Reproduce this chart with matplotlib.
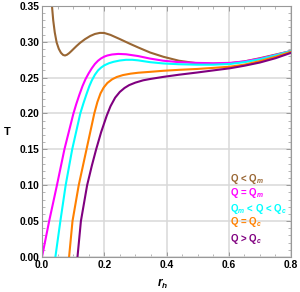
import matplotlib
matplotlib.use("Agg")
import matplotlib.pyplot as plt
from matplotlib.ticker import MultipleLocator

plt.rcParams['font.family'] = ['Liberation Sans', 'DejaVu Sans']
plt.rcParams['font.weight'] = 'bold'
plt.rcParams['mathtext.fontset'] = 'custom'
plt.rcParams['mathtext.rm'] = 'Liberation Sans:bold'
plt.rcParams['mathtext.it'] = 'Liberation Sans:italic:bold'
plt.rcParams['mathtext.bf'] = 'Liberation Sans:bold'

# Q < Q_m
r_brown = [0.029, 0.032, 0.036, 0.041, 0.047, 0.054, 0.061, 0.068, 0.074, 0.080,
           0.087, 0.094, 0.101, 0.111, 0.122, 0.138, 0.155, 0.170, 0.186, 0.200,
           0.220, 0.251, 0.283, 0.309, 0.347, 0.39, 0.44, 0.497, 0.55, 0.604,
           0.65, 0.70, 0.75, 0.80]
T_brown = [0.365, 0.350, 0.330, 0.313, 0.299, 0.290, 0.2845, 0.2815, 0.2808, 0.2818,
           0.2840, 0.2868, 0.2898, 0.2940, 0.2983, 0.3035, 0.3080, 0.3108, 0.3123, 0.3122,
           0.3095, 0.3035, 0.2970, 0.2920, 0.2850, 0.2790, 0.2735, 0.2700, 0.2690, 0.2700,
           0.2725, 0.2770, 0.2820, 0.2870]

# Q = Q_m
r_magenta = [0.0, 0.023, 0.048, 0.072, 0.101, 0.110, 0.120, 0.130, 0.140, 0.150,
             0.160, 0.170, 0.180, 0.190, 0.200, 0.210, 0.225, 0.245, 0.27, 0.309,
             0.347, 0.39, 0.44, 0.497, 0.55, 0.604, 0.65, 0.70, 0.75, 0.80]
T_magenta = [0.0, 0.05, 0.10, 0.15, 0.20, 0.213, 0.226, 0.238, 0.248, 0.256,
             0.263, 0.269, 0.2735, 0.2768, 0.2792, 0.2808, 0.2822, 0.2830, 0.2825, 0.2800,
             0.2765, 0.2735, 0.2715, 0.2705, 0.2700, 0.2705, 0.2725, 0.2765, 0.2815, 0.2870]

# Q_m < Q < Q_c
r_cyan = [0.043, 0.059, 0.076, 0.097, 0.123, 0.133, 0.143, 0.152, 0.160, 0.170,
          0.180, 0.190, 0.200, 0.215, 0.230, 0.250, 0.270, 0.290, 0.309, 0.347,
          0.39, 0.44, 0.497, 0.55, 0.604, 0.65, 0.70, 0.75, 0.80]
T_cyan = [0.0, 0.05, 0.10, 0.15, 0.200, 0.214, 0.227, 0.238, 0.246, 0.254,
          0.260, 0.264, 0.267, 0.270, 0.272, 0.2738, 0.2748, 0.2748, 0.2740, 0.2715,
          0.2697, 0.2686, 0.2680, 0.2680, 0.2690, 0.2715, 0.2755, 0.2810, 0.2870]

# Q = Q_c
r_orange = [0.087, 0.098, 0.118, 0.143, 0.168, 0.178, 0.188, 0.198, 0.210, 0.225,
            0.240, 0.260, 0.285, 0.310, 0.347, 0.39, 0.44, 0.497, 0.55, 0.604,
            0.65, 0.70, 0.75, 0.80]
T_orange = [0.0, 0.05, 0.10, 0.15, 0.200, 0.216, 0.228, 0.236, 0.2425, 0.2475,
            0.2508, 0.2535, 0.2555, 0.2568, 0.2580, 0.2595, 0.2608, 0.2620, 0.2635, 0.2652,
            0.2680, 0.2730, 0.2790, 0.2860]

# Q > Q_c
r_purple = [0.114, 0.125, 0.145, 0.160, 0.174, 0.190, 0.208, 0.220, 0.235, 0.250,
            0.265, 0.280, 0.300, 0.325, 0.347, 0.39, 0.44, 0.497, 0.55, 0.604,
            0.65, 0.70, 0.75, 0.80]
T_purple = [0.0, 0.05, 0.10, 0.127, 0.150, 0.174, 0.197, 0.210, 0.222, 0.230,
            0.2355, 0.2395, 0.2430, 0.2462, 0.2480, 0.2510, 0.2540, 0.2570, 0.2600, 0.2630,
            0.2665, 0.2710, 0.2770, 0.2845]

labels = ['Q < Q$_m$', 'Q = Q$_m$', 'Q$_m$ < Q < Q$_c$', 'Q = Q$_c$', 'Q > Q$_c$']
colors = ['#996633', '#ff00ff', '#00ffff', '#ff8000', '#800080']
label_y = [0.109, 0.089, 0.067, 0.049, 0.025]

fig = plt.figure(figsize=(3.0, 2.92), dpi=100)
ax = fig.add_axes([0.14, 0.12, 0.83, 0.86])

series = [(r_brown, T_brown), (r_magenta, T_magenta), (r_cyan, T_cyan),
          (r_orange, T_orange), (r_purple, T_purple)]
for (r, T), c in zip(series, colors):
    ax.plot(r, T, color=c, lw=1.5, solid_joinstyle='round', solid_capstyle='round')

for lab, c, yy in zip(labels, colors, label_y):
    ax.text(0.605, yy, lab, color=c, fontsize=7, fontweight='bold',
            va='center', ha='left')

ax.set_xlim(0, 0.8)
ax.set_ylim(0, 0.35)
ax.xaxis.set_major_locator(MultipleLocator(0.2))
ax.xaxis.set_minor_locator(MultipleLocator(0.05))
ax.yaxis.set_major_locator(MultipleLocator(0.05))
ax.yaxis.set_minor_locator(MultipleLocator(0.01))
ax.xaxis.set_major_formatter(plt.FuncFormatter(lambda v, p: f"{v:.1f}"))
ax.yaxis.set_major_formatter(plt.FuncFormatter(lambda v, p: f"{v:.2f}"))

ax.grid(True, which='major', color='#d9d9d9', lw=1.1)
ax.set_axisbelow(True)
for s in ax.spines.values():
    s.set_color('#999999')
    s.set_linewidth(0.8)
ax.tick_params(which='both', direction='in', top=True, right=True,
               color='#999999', labelsize=7.4, pad=2)
ax.tick_params(which='major', length=3.5, width=0.7)
ax.tick_params(which='minor', length=2, width=0.5)
for lbl in ax.get_xticklabels() + ax.get_yticklabels():
    lbl.set_fontweight('bold')

fig.text(7 / 300, 1 - 132 / 292, 'T', fontsize=8, fontweight='bold',
         ha='center', va='center')
fig.text(163 / 300, 1 - 284 / 292, '$r_h$', fontsize=8.5,
         ha='center', va='center')

fig.savefig('out.png', dpi=100)
